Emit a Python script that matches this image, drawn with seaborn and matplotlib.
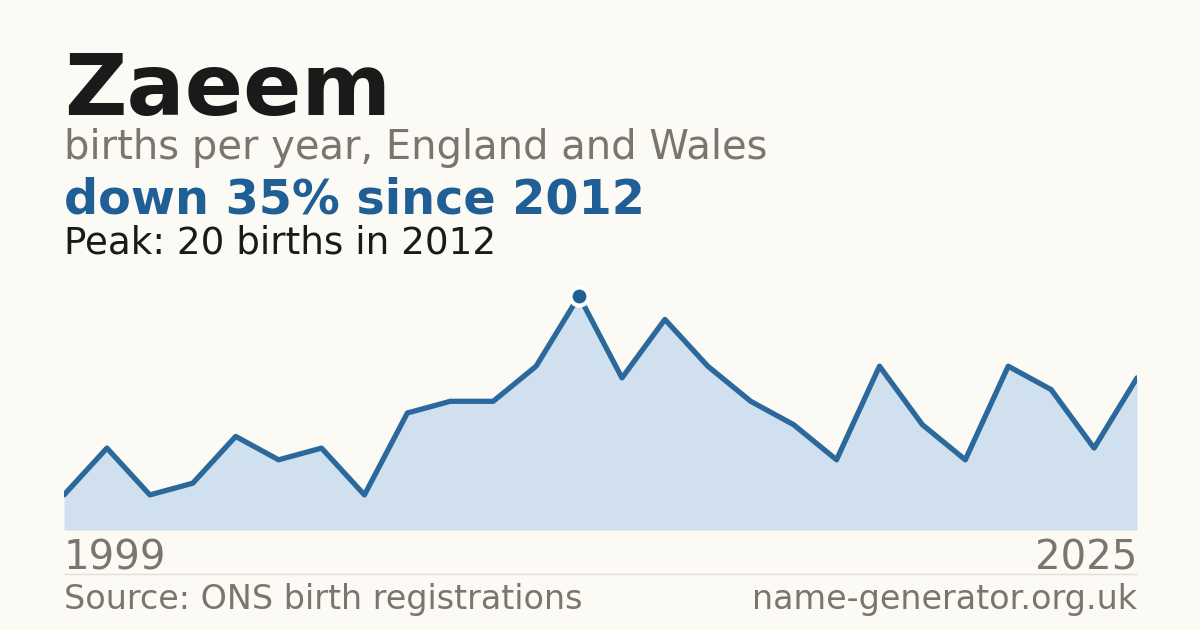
import matplotlib
matplotlib.use("Agg")
import matplotlib.pyplot as plt
import seaborn as sns
import pandas as pd

# births per year (one year missing from the series, points are evenly spaced)
years = [1999, 2000, 2002, 2003, 2004, 2005, 2006, 2007, 2008, 2009, 2010, 2011, 2012,
         2013, 2014, 2015, 2016, 2017, 2018, 2019, 2020, 2021, 2022, 2023, 2024, 2025]
births = [3, 7, 3, 4, 8, 6, 7, 3, 10, 11, 11, 14, 20,
          13, 18, 14, 11, 9, 6, 14, 9, 6, 14, 12, 7, 13]

name = "Zaeem"
subtitle = "births per year, England and Wales"
headline = "down 35% since 2012"
peak_note = "Peak: 20 births in 2012"
source = "Source: ONS birth registrations"
site = "name-generator.org.uk"

bg = "#fbfaf5"
blue = "#1f5f96"
fill = "#d0e0ef"
grey = "#7a756e"

df = pd.DataFrame({"pos": range(len(years)), "year": years, "births": births})
peak_i = df["births"].idxmax()

sns.set_theme(style="white")
plt.rcParams['font.family'] = ['DejaVu Sans']

fig = plt.figure(figsize=(12, 6.3), dpi=100, facecolor=bg)
ax = fig.add_axes([64 / 1200, 100 / 630, 1073 / 1200, 250 / 630])
ax.set_facecolor(bg)

ax.fill_between(df["pos"], df["births"], 0, color=fill, linewidth=0)
sns.lineplot(data=df, x="pos", y="births", color="#2b689c", linewidth=3.8, ax=ax)
ax.plot(df["pos"][peak_i], df["births"][peak_i], "o", color=blue, markersize=13,
        markeredgecolor="white", markeredgewidth=3, zorder=5)

ax.set_xlim(0, len(years) - 1)
ax.set_ylim(0, 20 * 250 / 234)
ax.set_xticks([])
ax.set_yticks([])
ax.set_xlabel("")
ax.set_ylabel("")
for s in ax.spines.values():
    s.set_visible(False)
ax.axhline(0, color="#e2dfd8", linewidth=1)

def fy(px):
    return 1 - px / 630

fig.text(64 / 1200, fy(115), name, fontsize=62, fontweight="bold", color="#1a1a1a", va="baseline")
fig.text(64 / 1200, fy(159), subtitle, fontsize=28.8, color=grey, va="baseline")
fig.text(64 / 1200, fy(213), headline, fontsize=34.4, fontweight="bold", color=blue, va="baseline")
fig.text(64 / 1200, fy(253), peak_note, fontsize=26.8, color="#1a1a1a", va="baseline")

fig.text(64 / 1200, fy(570), str(years[0]), fontsize=29, color=grey, va="baseline")
fig.text(1137 / 1200, fy(570), str(years[-1]), fontsize=29, color=grey, va="baseline", ha="right")
fig.add_artist(plt.Line2D([64 / 1200, 1137 / 1200], [fy(574), fy(574)], color="#e2dfd8", linewidth=1))
fig.text(64 / 1200, fy(609), source, fontsize=24, color=grey, va="baseline")
fig.text(1137 / 1200, fy(609), site, fontsize=24, color=grey, va="baseline", ha="right")

fig.savefig("out.png", dpi=100, facecolor=bg)
